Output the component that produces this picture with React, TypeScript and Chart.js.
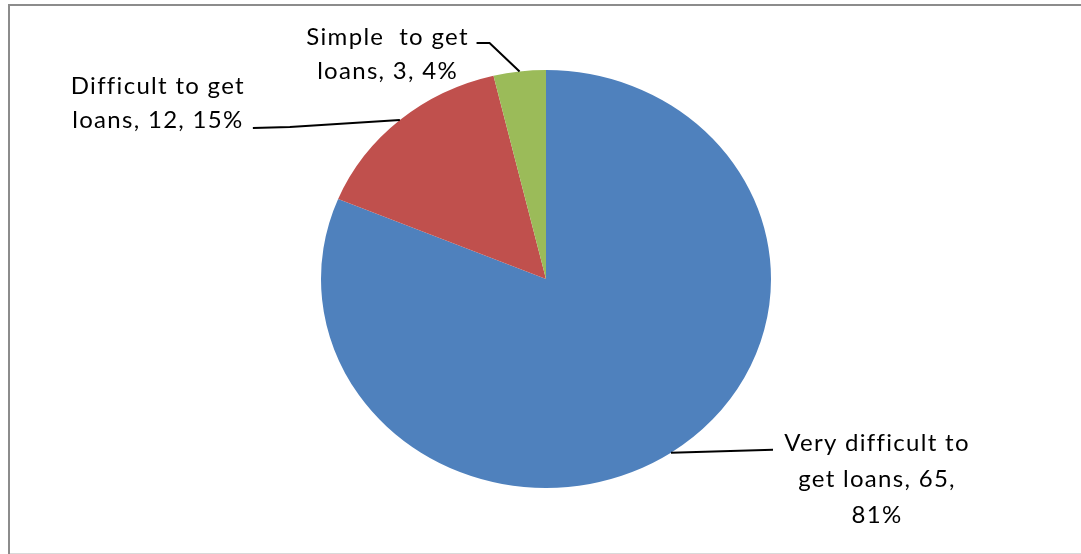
import React, { useEffect, useRef } from "react";
import { Chart, registerables } from "chart.js";

Chart.register(...registerables);

// ---- data ----
const categories = ["Very difficult to get loans", "Difficult to get loans", "Simple  to get loans"];
const values = [65, 12, 3];
const colors = ["#4F81BD", "#C0504D", "#9BBB59"];
// how many words go on each line of each data label
const wordsPerLine = [[3, 3, 1], [3, 3], [3, 3]];

// ---- label placement (relative to the slice's outer edge at its mid angle) ----
const labelText = [
  [206, -10],
  [-242, -34],
  [-132, -34.5],
];
const labelLineHeight = [36, 34, 34];
const leaderPoints = [
  [[102, -3]],
  [[-110, 7], [-147, 8]],
  [[-30, -28.5], [-43, -28.5]],
];

const Y_SCALE = 209 / 225;
const FONT = '24px "Lato", "Liberation Sans", sans-serif';
const LETTER_SPACING = "1.3px";

function buildLines(i: number): string[] {
  const total = values.reduce((a, b) => a + b, 0);
  const pct = Math.round((values[i] / total) * 100);
  const full = `${categories[i]}, ${values[i]}, ${pct}%`;
  const words = full.split(/ (?! )/);
  const lines: string[] = [];
  let k = 0;
  for (const n of wordsPerLine[i]) {
    lines.push(words.slice(k, k + n).join(" "));
    k += n;
  }
  return lines;
}

const framePlugin = {
  id: "frame",
  beforeDraw(chart: any) {
    const ctx = chart.ctx;
    const w = chart.width;
    const h = chart.height;
    ctx.save();
    ctx.fillStyle = "#ffffff";
    ctx.fillRect(0, 0, w, h);
    ctx.fillStyle = "#8c8c8c";
    ctx.fillRect(8, 4, w - 8, 2);
    ctx.fillRect(8, 4, 2, h - 4);
    ctx.fillStyle = "#d9d9d9";
    ctx.fillRect(10, h - 1, w - 10, 1);
    ctx.restore();
  },
};

const ellipsePlugin = {
  id: "ellipse",
  beforeDatasetsDraw(chart: any) {
    const arc = chart.getDatasetMeta(0).data[0];
    const ctx = chart.ctx;
    ctx.save();
    ctx.translate(arc.x, arc.y);
    ctx.scale(1, Y_SCALE);
    ctx.translate(-arc.x, -arc.y);
  },
  afterDatasetsDraw(chart: any) {
    chart.ctx.restore();
  },
};

const labelPlugin = {
  id: "pieLabels",
  afterDraw(chart: any) {
    const ctx = chart.ctx;
    const meta = chart.getDatasetMeta(0);
    ctx.save();
    meta.data.forEach((arc: any, i: number) => {
      const a = (arc.startAngle + arc.endAngle) / 2;
      const ex = arc.x + arc.outerRadius * Math.cos(a);
      const ey = arc.y + arc.outerRadius * Math.sin(a) * Y_SCALE;
      // leader line
      ctx.beginPath();
      ctx.strokeStyle = "#000000";
      ctx.lineWidth = 2;
      ctx.moveTo(ex, ey);
      for (const p of leaderPoints[i]) ctx.lineTo(ex + p[0], ey + p[1]);
      ctx.stroke();
      // text
      ctx.fillStyle = "#000000";
      ctx.font = FONT;
      (ctx as any).letterSpacing = LETTER_SPACING;
      ctx.textAlign = "center";
      ctx.textBaseline = "middle";
      const lines = buildLines(i);
      const tx = ex + labelText[i][0];
      const ty = ey + labelText[i][1];
      lines.forEach((ln, j) => {
        ctx.fillText(ln, tx, ty + j * labelLineHeight[i]);
      });
    });
    ctx.restore();
  },
};

export default function App() {
  const ref = useRef<HTMLCanvasElement | null>(null);
  useEffect(() => {
    if (!ref.current) return;
    const chart = new Chart(ref.current, {
      type: "pie",
      data: {
        labels: categories,
        datasets: [
          {
            data: values,
            backgroundColor: colors,
            borderWidth: 0,
            hoverOffset: 0,
          },
        ],
      },
      options: {
        responsive: false,
        animation: false,
        layout: { padding: { left: 321, right: 310, top: 54, bottom: 50 } },
        plugins: {
          legend: { display: false },
          tooltip: { enabled: false },
          title: { display: false },
        },
      },
      plugins: [framePlugin, ellipsePlugin, labelPlugin],
    });
    return () => chart.destroy();
  }, []);
  return (
    <div style={{ position: "absolute", left: 0, top: 0, width: 1081, height: 554, overflow: "hidden" }}>
      <canvas ref={ref} width={1081} height={554} style={{ display: "block" }} />
    </div>
  );
}
